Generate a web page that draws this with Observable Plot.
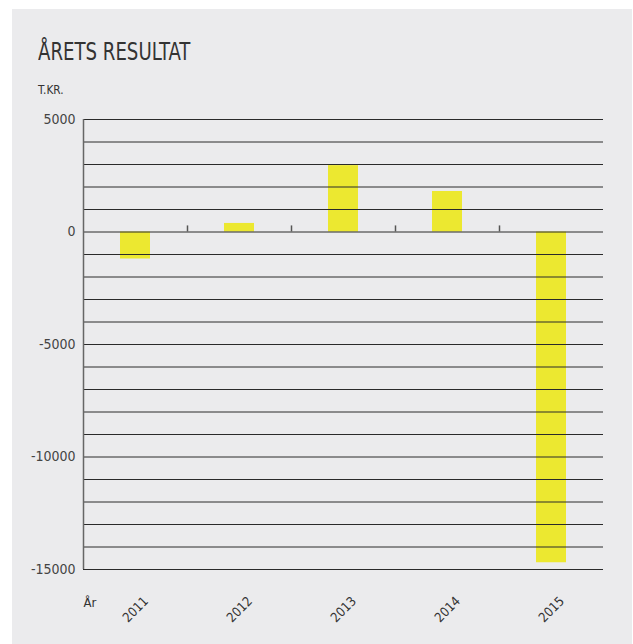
<!DOCTYPE html>
<html>
<head>
<meta charset="utf-8">
<script src="https://cdn.jsdelivr.net/npm/d3@7"></script>
<script src="https://cdn.jsdelivr.net/npm/@observablehq/plot@0.6"></script>
<style>
  html, body { margin: 0; padding: 0; background: #ffffff; width: 633px; height: 644px; overflow: hidden; }
  #panel { position: absolute; left: 12px; top: 9px; width: 620px; height: 635px; background: #ebebed; }
  #title { position: absolute; left: 38px; top: 38px; font-family: "Liberation Sans Narrow", "DejaVu Sans Condensed", sans-serif; font-size: 24px; color: #333; transform: scaleX(0.84); transform-origin: left top; white-space: nowrap; }
  #unit { position: absolute; left: 38px; top: 82px; font-family: "Liberation Sans Narrow", "DejaVu Sans Condensed", sans-serif; font-size: 13px; color: #333; transform: scaleX(0.9); transform-origin: left top; }
  #chart { position: absolute; left: 0; top: 100px; }
  #chart svg { background: transparent; }
</style>
</head>
<body>
<div id="panel"></div>
<div id="title">ÅRETS RESULTAT</div>
<div id="unit">T.KR.</div>
<div id="chart"></div>
<script>
const years = ["2011", "2012", "2013", "2014", "2015"];
const results = [-1200, 380, 2950, 1800, -14700];
const yTicks = [5000, 0, -5000, -10000, -15000];
const gridValues = [5000, 4000, 3000, 2000, 1000, 0, -1000, -2000, -3000, -4000, -5000, -6000, -7000, -8000, -9000, -10000, -11000, -12000, -13000, -14000, -15000];
const axisTitle = ["År"];

const data = years.map((y, i) => ({year: y, value: results[i]}));
const font = '"Liberation Sans Narrow", "DejaVu Sans Condensed", sans-serif';

const chart = Plot.plot({
  width: 633,
  height: 544,
  marginLeft: 83,
  marginRight: 30,
  marginTop: 19,
  marginBottom: 75,
  style: { background: "transparent", fontFamily: font, color: "#444" },
  x: { domain: years, padding: 0, axis: null },
  y: { domain: [-15000, 5000], axis: null },
  marks: [
    Plot.barY(data, { x: "year", y: "value", fill: "#ece830", insetLeft: 37, insetRight: 37 }),
    Plot.ruleY(gridValues, { stroke: "#2a2a2a", strokeWidth: 1 }),
    Plot.ruleX(years.slice(1), { x: d => d, y1: 0, y2: 270, dx: -52, stroke: "#555", strokeWidth: 1.5 }),
    Plot.ruleX([years[0]], { x: d => d, y1: -15000, y2: 5000, dx: -52, stroke: "#666", strokeWidth: 1.5 }),
    Plot.axisY({ ticks: yTicks, tickFormat: d => String(d), label: null, tickSize: 0, tickPadding: 8, fontSize: 14, fill: "#444" }),
    Plot.text(years, { x: d => d, text: d => d, frameAnchor: "bottom", dy: 43, dx: 3, rotate: -45, textAnchor: "middle", fontSize: 13, fill: "#333" }),
    Plot.text(axisTitle, { text: d => d, frameAnchor: "bottom-left", dy: 37, textAnchor: "start", fontSize: 13, fill: "#333" })
  ]
});
document.getElementById("chart").appendChild(chart);
</script>
</body>
</html>
